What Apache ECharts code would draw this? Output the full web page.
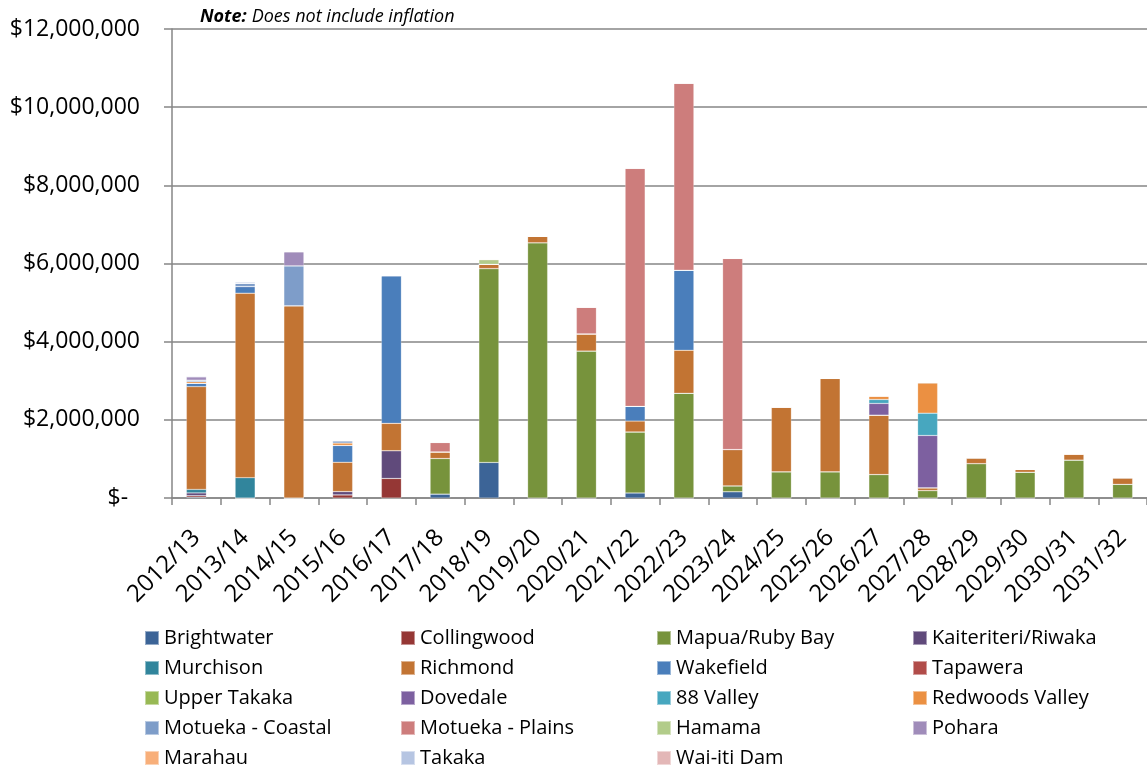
<!DOCTYPE html>
<html>
<head>
<meta charset="utf-8">
<script src="https://cdn.jsdelivr.net/npm/echarts@6/dist/echarts.min.js"></script>
<style>html,body{margin:0;padding:0;background:#fff}#c{width:1147px;height:767px}</style>
</head>
<body>
<div id="c"></div>
<script>
const categories = ['2012/13','2013/14','2014/15','2015/16','2016/17','2017/18','2018/19','2019/20','2020/21','2021/22','2022/23','2023/24','2024/25','2025/26','2026/27','2027/28','2028/29','2029/30','2030/31','2031/32'];
const yTicks = [0, 2000000, 4000000, 6000000, 8000000, 10000000, 12000000];

const brightwater    = [20000,0,0,0,0,100000,910000,0,0,130000,0,160000,0,0,0,0,0,0,0,0];
const collingwood    = [40000,0,0,80000,500000,0,0,0,0,0,0,0,0,0,0,0,0,0,0,0];
const mapuaRubyBay   = [0,0,0,0,0,910000,4960000,6530000,3760000,1560000,2680000,150000,670000,670000,600000,190000,880000,660000,970000,350000];
const kaiteriteri    = [70000,0,0,85000,710000,0,0,0,0,0,0,0,0,0,0,0,0,0,0,0];
const murchison      = [90000,520000,0,0,0,0,0,0,0,0,0,0,0,0,0,0,0,0,0,0];
const richmond       = [2630000,4720000,4920000,750000,700000,170000,110000,170000,440000,280000,1100000,930000,1660000,2390000,1520000,70000,150000,70000,160000,170000];
const wakefield      = [85000,170000,0,430000,3780000,0,0,0,0,375000,2050000,0,0,0,0,0,0,0,0,0];
const tapawera       = [0,0,0,0,0,0,0,0,0,0,0,0,0,0,0,0,0,0,0,0];
const upperTakaka    = [0,0,0,0,0,0,0,0,0,0,0,0,0,0,0,0,0,0,0,0];
const dovedale       = [0,0,0,0,0,0,0,0,0,0,0,0,0,0,300000,1340000,0,0,0,0];
const valley88       = [0,0,0,0,0,0,0,0,0,0,0,0,0,0,100000,570000,0,0,0,0];
const redwoodsValley = [40000,0,0,60000,0,0,0,0,0,0,0,0,0,0,90000,780000,0,0,0,0];
const motuekaCoastal = [40000,85000,1020000,60000,0,0,0,0,0,0,0,0,0,0,0,0,0,0,0,0];
const motuekaPlains  = [0,0,0,0,0,240000,0,0,680000,6090000,4780000,4890000,0,0,0,0,0,0,0,0];
const hamama         = [0,0,0,0,0,0,120000,0,0,0,0,0,0,0,0,0,0,0,0,0];
const pohara         = [85000,0,360000,0,0,0,0,0,0,0,0,0,0,0,0,0,0,0,0,0];
const marahau        = [0,0,0,0,0,0,0,0,0,0,0,0,0,0,0,0,0,0,0,0];
const takaka         = [20000,30000,0,0,0,0,0,0,0,0,0,0,0,0,0,0,0,0,0,0];
const waiitiDam      = [0,0,0,0,0,0,0,0,0,0,0,0,0,0,0,0,0,0,0,0];

const seriesNames = ['Brightwater','Collingwood','Mapua/Ruby Bay','Kaiteriteri/Riwaka','Murchison','Richmond','Wakefield','Tapawera','Upper Takaka','Dovedale','88 Valley','Redwoods Valley','Motueka - Coastal','Motueka - Plains','Hamama','Pohara','Marahau','Takaka','Wai-iti Dam'];
const seriesData = [brightwater,collingwood,mapuaRubyBay,kaiteriteri,murchison,richmond,wakefield,tapawera,upperTakaka,dovedale,valley88,redwoodsValley,motuekaCoastal,motuekaPlains,hamama,pohara,marahau,takaka,waiitiDam];
const colors = ['#3C6497','#953735','#77933C','#604A7B','#31859C','#C27433','#4A7EBB','#B14C49','#98B954','#7D60A0','#47A7BF','#EB9042','#7E9DC9','#CD7D7C','#B2CC8A','#A08CBA','#F8AF7A','#B6C5E2','#E3B7B7'];

const FONT = 'Open Sans';
const chart = echarts.init(document.getElementById('c'), null, {renderer:'canvas'});

const legendRows = [];
for (let r = 0; r * 4 < seriesNames.length; r++) legendRows.push(seriesNames.slice(r * 4, r * 4 + 4));

const option = {
  animation: false,
  color: colors,
  title: {
    left: 195, top: 3,
    text: '{b|Note:} {i|Does not include inflation}',
    textStyle: {
      fontWeight: 'normal',
      rich: {
        b: {fontFamily: FONT, fontStyle: 'italic', fontWeight: 'bold', fontSize: 18, color: '#000'},
        i: {fontFamily: FONT, fontStyle: 'italic', fontWeight: 'normal', fontSize: 18, color: '#000'}
      }
    }
  },
  legend: legendRows.map((row, r) => ({
    orient: 'horizontal',
    left: 144,
    top: 628 + r * 30,
    width: 1040,
    icon: 'rect',
    itemWidth: 14,
    itemHeight: 14,
    itemGap: 1,
    padding: 0,
    selectedMode: false,
    data: row,
    textStyle: {fontFamily: FONT, fontSize: 20, color: '#000', width: 235, overflow: 'none', lineHeight: 14}
  })),
  grid: {left: 172, right: -6, top: 29, bottom: 269, containLabel: false},
  xAxis: {
    type: 'category',
    data: categories,
    axisLine: {lineStyle: {color: '#868686', width: 1.5}},
    axisTick: {show: true, length: 7, interval: 0, alignWithLabel: false, lineStyle: {color: '#868686', width: 1.5}},
    axisLabel: {interval: 0, rotate: 45, margin: 36, fontFamily: FONT, fontSize: 24, color: '#000'}
  },
  yAxis: {
    type: 'value',
    min: yTicks[0],
    max: yTicks[yTicks.length - 1],
    interval: yTicks[1] - yTicks[0],
    axisLine: {show: true, lineStyle: {color: '#868686', width: 1.5}},
    axisTick: {show: true, length: 8, lineStyle: {color: '#868686', width: 1.5}},
    splitLine: {show: true, lineStyle: {color: '#868686', width: 1.5}},
    axisLabel: {
      margin: 32, fontFamily: FONT, fontSize: 23, color: '#000',
      formatter: v => v === 0 ? '$-  ' : '$' + v.toLocaleString('en-US')
    }
  },
  series: seriesNames.map((name, k) => ({
    name: name,
    type: 'bar',
    stack: 'total',
    barWidth: 20,
    data: seriesData[k],
    itemStyle: {color: colors[k], borderColor: 'rgba(255,255,255,0.45)', borderWidth: 0.5}
  }))
};
chart.setOption(option);
</script>
</body>
</html>
